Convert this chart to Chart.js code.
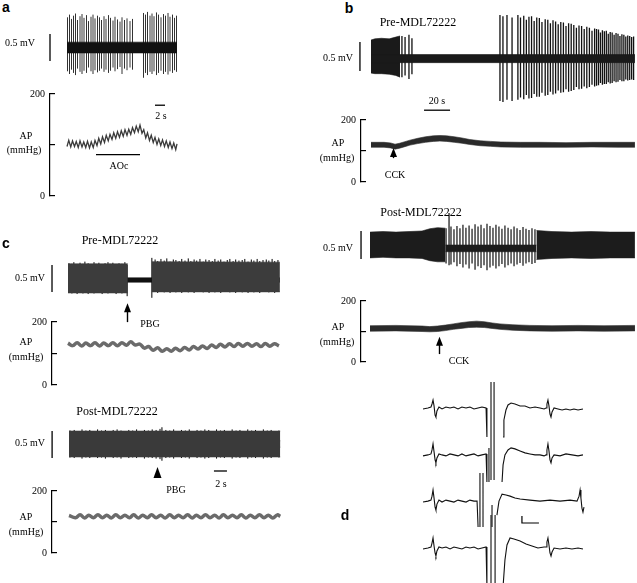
<!DOCTYPE html>
<html><head><meta charset="utf-8">
<script src="https://cdn.jsdelivr.net/npm/chart.js@4.4.1/dist/chart.umd.min.js"></script>
<style>
html,body{margin:0;padding:0;background:#fff;}
#fig{position:relative;width:637px;height:583px;overflow:hidden;background:#fff;}
canvas{position:absolute;}
.t{position:absolute;font-family:'Liberation Serif','Times New Roman',serif;font-size:10px;color:#000;white-space:nowrap;transform:translate(-50%,-50%);line-height:1;}
.L{font-family:'Liberation Sans',Arial,sans-serif;font-weight:bold;font-size:14px;}
.T{font-size:12px;}
</style></head><body><div id="fig"></div>
<script>
// ================= DATA =================
// ---- panel a : nerve activity (time s, mV) ----
const aSpikeT=[0.1,0.5,0.9,1.3,1.7,2.1,2.6,3.0,3.4,3.9,4.3,4.8,5.2,5.6,6.1,6.5,6.9,7.4,7.8,8.3,8.7,9.2,9.6,10.1,10.6,11.0,11.5,12.0,12.6,13.1,15.3,15.7,16.1,16.6,17.0,17.4,17.9,18.3,18.8,19.3,19.7,20.2,20.6,21.1,21.5,21.9];
const aSpikeTop=[0.55,0.60,0.52,0.58,0.62,0.50,0.57,0.61,0.54,0.59,0.48,0.56,0.60,0.53,0.58,0.55,0.50,0.57,0.52,0.59,0.54,0.49,0.56,0.51,0.47,0.55,0.50,0.53,0.48,0.52,0.63,0.60,0.65,0.58,0.62,0.57,0.64,0.60,0.55,0.61,0.58,0.63,0.56,0.60,0.54,0.58];
const aSpikeBot=[-0.45,-0.50,-0.42,-0.48,-0.52,-0.40,-0.46,-0.50,-0.44,-0.48,-0.38,-0.45,-0.50,-0.43,-0.47,-0.44,-0.40,-0.46,-0.42,-0.48,-0.44,-0.38,-0.45,-0.41,-0.37,-0.50,-0.40,-0.43,-0.38,-0.42,-0.57,-0.48,-0.52,-0.46,-0.50,-0.45,-0.52,-0.48,-0.44,-0.50,-0.46,-0.51,-0.45,-0.48,-0.43,-0.46];
const aBandT=[0,22], aBandHi=[0.09,0.09], aBandLo=[-0.11,-0.11];
// panel a : arterial pressure (s, mmHg)
const aApT=[0,0.35,0.75,1.1,1.5,1.85,2.25,2.6,3.0,3.35,3.75,4.1,4.5,4.85,5.25,5.6,6.0,6.35,6.75,7.1,7.5,7.85,8.25,8.6,9.0,9.35,9.75,10.1,10.5,10.85,11.25,11.6,12.0,12.35,12.75,13.1,13.5,13.85,14.25,14.6,15.0,15.35,15.75,16.1,16.5,16.85,17.25,17.6,18.0,18.35,18.75,19.1,19.5,19.85,20.25,20.6,21.0,21.35,21.75,22.0];
const aAp=[97,109,96,108,97,107,95,108,96,106,95,107,94,106,95,109,99,113,102,116,105,119,108,121,111,124,113,126,115,128,117,130,119,131,121,134,124,137,126,139,123,130,114,124,109,119,105,115,101,112,99,110,97,108,95,106,93,104,91,102];
const aOccT=[5.8,14.6], aOccLevel=81;           // aortic occlusion period (s)
const aTimeBar=[17.6,19.6], aTimeBarLevel=178;  // 2 s

// ---- panel b : pre-MDL72222 (time s, mV) ----
const bPreBlockT=[0,3,8,14,19,22.3], bPreBlockHi=[0.31,0.33,0.34,0.33,0.36,0.38], bPreBlockLo=[-0.26,-0.27,-0.27,-0.28,-0.30,-0.33];
const bPreBaseT=[0,203], bPreBaseHi=[0.06,0.06], bPreBaseLo=[-0.08,-0.08];
const bPreSpikeT=[23.8,26.2,29.2,31.5,99.2,101.5,104.6,108.5,113,115,117.5,119.5,121.5,123.5,125.5,127.5,129.5,131.5,134,136,138,140,142,144,146,148,150,152,154,156,158,160,162,164,166,168,170,172,173.5,175,176.5,178,179.5,181,182.5,184,185.5,187,188.5,190,191.5,193,194.5,196,197.5,199,200.5,202];
const bPreSpikeTop=[0.38,0.36,0.40,0.34,0.74,0.72,0.74,0.70,0.74,0.70,0.73,0.66,0.71,0.72,0.64,0.70,0.69,0.62,0.67,0.66,0.60,0.65,0.63,0.58,0.62,0.61,0.55,0.60,0.59,0.57,0.52,0.56,0.55,0.50,0.54,0.52,0.47,0.51,0.50,0.49,0.44,0.48,0.46,0.47,0.42,0.45,0.44,0.40,0.43,0.42,0.38,0.41,0.40,0.37,0.39,0.38,0.36,0.37];
const bPreSpikeBot=[-0.33,-0.30,-0.36,-0.28,-0.74,-0.76,-0.72,-0.74,-0.72,-0.68,-0.71,-0.64,-0.70,-0.69,-0.62,-0.67,-0.67,-0.60,-0.65,-0.64,-0.58,-0.63,-0.61,-0.56,-0.60,-0.59,-0.54,-0.58,-0.57,-0.55,-0.50,-0.54,-0.53,-0.49,-0.52,-0.50,-0.46,-0.49,-0.48,-0.47,-0.43,-0.46,-0.45,-0.45,-0.42,-0.44,-0.43,-0.40,-0.42,-0.41,-0.38,-0.40,-0.40,-0.37,-0.39,-0.38,-0.37,-0.38];
const bTimeBar=[40.8,60.8], bTimeBarLevel=-0.9;  // 20 s
const bPreApT=[0,10,15,18.5,22,26,30,36,42,48,53,58,64,70,76,84,92,100,115,130,150,170,190,203];
const bPreApHi=[128,128,126,122,125,130,135,141,146,149,150,149,146,142,137,133,131,129,128,128,127,128,128,128];
const bPreApLo=[112,112,110,106,109,114,119,124,128,131,132,131,128,125,121,117,115,113,112,112,112,113,112,112];
const bPreCCK={t:17,from:77,to:110};
// ---- panel b : post-MDL72222 ----
const bPostDenseLT=[0,10,20,30,40,46,52,58], bPostDenseLHi=[0.23,0.24,0.23,0.24,0.25,0.29,0.31,0.30], bPostDenseLLo=[-0.23,-0.22,-0.23,-0.23,-0.24,-0.28,-0.30,-0.30];
const bPostMidT=[58,128], bPostMidHi=[0.0,0.0], bPostMidLo=[-0.12,-0.12];
const bPostDenseRT=[128,140,155,170,185,203.8], bPostDenseRHi=[0.26,0.24,0.23,0.24,0.23,0.23], bPostDenseRLo=[-0.26,-0.24,-0.23,-0.24,-0.23,-0.23];
const bPostSpikeT=[58.5,60.8,62.3,64.6,66.9,69.2,71.5,73.8,76.2,78.5,80.8,83.1,85.4,87.7,90,92.3,94.6,96.9,99.2,101.5,103.8,106.2,108.5,110.8,113.1,115.4,117.7,120,122.3,124.6,126.9];
const bPostSpikeTop=[0.30,0.57,0.33,0.28,0.34,0.30,0.36,0.31,0.35,0.29,0.37,0.33,0.36,0.30,0.38,0.34,0.31,0.36,0.33,0.29,0.35,0.31,0.28,0.33,0.30,0.27,0.32,0.29,0.27,0.30,0.28];
const bPostSpikeBot=[-0.33,-0.36,-0.35,-0.31,-0.38,-0.34,-0.40,-0.35,-0.42,-0.33,-0.44,-0.38,-0.41,-0.36,-0.45,-0.40,-0.37,-0.42,-0.38,-0.34,-0.40,-0.36,-0.33,-0.38,-0.35,-0.32,-0.37,-0.33,-0.31,-0.34,-0.32];
const bPostApT=[0,20,40,46,52,58,64,70,76,82,88,94,100,110,123,140,160,180,203.8];
const bPostApHi=[119,120,118,116,118,121,125,129,132,134,132,128,125,122,120,119,120,119,120];
const bPostApLo=[101,102,100,99,100,103,107,110,113,114,113,110,107,104,102,101,102,101,102];
const bPostCCK={t:53,from:26,to:83};

// ---- panel c : pre-MDL72222 (time s, mV) ----
const cPreDenseLT=[0,9.2], cPreDenseLHi=[0.30,0.30], cPreDenseLLo=[-0.24,-0.24];
const cPreBaseT=[0,32.6], cPreBaseHi=[0.04,0.04], cPreBaseLo=[-0.04,-0.04];
const cPreDenseRT=[12.9,32.6], cPreDenseRHi=[0.34,0.33], cPreDenseRLo=[-0.22,-0.22];
const cPreSpikeT=[0.15,0.6,0.9,1.4,1.85,2.3,2.6,3.1,3.55,4.0,4.3,4.75,5.25,5.7,6.15,6.45,6.9,7.4,7.85,8.3,8.75,9.1,12.9,13.4,13.8,14.3,14.8,15.2,15.7,16.2,16.6,17.1,17.5,18.0,18.5,18.9,19.4,19.8,20.3,20.8,21.2,21.7,22.2,22.6,23.1,23.5,24.0,24.5,24.9,25.4,25.8,26.3,26.8,27.2,27.7,28.2,28.6,29.1,29.5,30.0,30.5,30.9,31.4,31.8,32.3];
const cPreSpikeTop=[0.31,0.30,0.33,0.29,0.32,0.30,0.34,0.31,0.29,0.33,0.30,0.32,0.29,0.31,0.33,0.30,0.32,0.29,0.31,0.30,0.33,0.28,0.41,0.38,0.35,0.39,0.36,0.40,0.34,0.38,0.37,0.35,0.39,0.36,0.40,0.35,0.38,0.36,0.39,0.34,0.38,0.37,0.35,0.39,0.36,0.38,0.34,0.37,0.39,0.35,0.38,0.36,0.37,0.39,0.34,0.38,0.36,0.39,0.35,0.37,0.38,0.36,0.39,0.35,0.37];
const cPreSpikeBot=[-0.24,-0.25,-0.23,-0.26,-0.24,-0.25,-0.23,-0.26,-0.24,-0.25,-0.24,-0.23,-0.26,-0.24,-0.25,-0.23,-0.24,-0.26,-0.24,-0.25,-0.24,-0.30,-0.33,-0.22,-0.24,-0.21,-0.23,-0.22,-0.24,-0.21,-0.23,-0.22,-0.24,-0.21,-0.23,-0.22,-0.24,-0.22,-0.21,-0.23,-0.22,-0.24,-0.21,-0.23,-0.22,-0.24,-0.22,-0.21,-0.23,-0.22,-0.24,-0.21,-0.23,-0.22,-0.24,-0.21,-0.23,-0.22,-0.24,-0.22,-0.21,-0.23,-0.22,-0.24,-0.22];
const cPreApT=[0,0.7,1.4,2.1,2.75,3.45,4.15,4.85,5.5,6.2,6.9,7.6,8.3,9.0,9.65,10.35,11.05,11.75,12.4,13.1,13.8,14.5,15.2,15.9,16.55,17.25,17.95,18.65,19.3,20.0,20.7,21.4,22.1,22.8,23.45,24.15,24.85,25.55,26.2,26.9,27.6,28.3,29.0,29.7,30.35,31.05,31.75,32.45];
const cPreAp=[133,125,134,124,133,125,134,124,133,125,134,125,134,126,137,127,130,117,122,110,118,107,115,107,117,109,119,111,122,114,124,116,127,119,129,121,131,122,132,123,132,123,131,122,132,123,131,124];
const cPrePBG={t:9.1,from:-0.78,to:-0.43};
// ---- panel c : post-MDL72222 ----
const cPostDenseT=[0,32.5], cPostDenseHi=[0.24,0.24], cPostDenseLo=[-0.24,-0.24];
const cPostCoreT=[0,32.5], cPostCoreHi=[0.06,0.06], cPostCoreLo=[-0.06,-0.06];
const cPostSpikeT=[0.15,0.8,1.4,2.0,2.6,3.2,3.8,4.4,5.0,5.6,6.2,6.8,7.4,8.0,8.6,9.2,9.8,10.4,11.0,11.6,12.2,12.8,13.4,14.0,14.3,14.9,15.5,16.1,16.7,17.3,17.9,18.5,19.1,19.7,20.3,20.9,21.5,22.1,22.7,23.3,23.9,24.5,25.1,25.7,26.3,26.9,27.5,28.1,28.7,29.3,29.9,30.5,31.1,31.7,32.3];
const cPostSpikeTop=[0.25,0.26,0.24,0.27,0.25,0.26,0.24,0.27,0.25,0.26,0.24,0.26,0.27,0.25,0.24,0.26,0.25,0.27,0.24,0.26,0.25,0.27,0.26,0.28,0.31,0.26,0.25,0.27,0.24,0.26,0.25,0.27,0.24,0.26,0.25,0.27,0.26,0.24,0.27,0.25,0.26,0.24,0.27,0.25,0.26,0.24,0.27,0.25,0.26,0.24,0.27,0.25,0.26,0.24,0.25];
const cPostSpikeBot=[-0.25,-0.26,-0.24,-0.27,-0.25,-0.26,-0.24,-0.26,-0.25,-0.27,-0.24,-0.26,-0.25,-0.27,-0.24,-0.26,-0.25,-0.26,-0.24,-0.27,-0.25,-0.26,-0.27,-0.28,-0.31,-0.26,-0.25,-0.27,-0.24,-0.26,-0.25,-0.27,-0.24,-0.26,-0.25,-0.27,-0.26,-0.24,-0.27,-0.25,-0.26,-0.24,-0.27,-0.25,-0.26,-0.24,-0.27,-0.25,-0.26,-0.24,-0.27,-0.25,-0.26,-0.24,-0.25];
const cTimeBar=[22.3,24.3], cTimeBarLevel=-0.5;   // 2 s
const cPostApT=[0,1.0,1.7,2.4,3.05,3.75,4.45,5.15,5.8,6.5,7.2,7.9,8.6,9.3,9.95,10.65,11.35,12.05,12.7,13.4,14.1,14.8,15.5,16.2,16.85,17.55,18.25,18.95,19.6,20.3,21.0,21.7,22.4,23.1,23.75,24.45,25.15,25.85,26.5,27.2,27.9,28.6,29.3,30.0,30.65,31.35,32.05,32.5];
const cPostAp=[121,114,123,113,122,114,123,114,122,113,123,114,122,114,123,113,122,114,123,114,122,113,123,114,122,114,123,113,122,114,123,114,122,113,123,114,122,114,123,113,122,114,123,114,122,113,123,118];
const cPostPBG={t:13.5,from:-0.63,to:-0.426};

// ---- panel d : single sweeps (time ms, mV); null = pen lift ----
const d1=[[0,-0.014],[0.29,0],[0.47,0.014],[0.53,0.057],[0.59,0.114],[0.65,0.03],[0.71,-0.1],[0.76,-0.129],[0.82,-0.043],[0.94,0.014],[1.12,-0.014],[1.35,0.014],[1.59,0],[1.82,0.014],[2.06,-0.014],[2.29,0.014],[2.53,0],[2.76,0.014],[3.0,-0.014],[3.24,0],[3.47,0.014],[3.71,0],[3.76,-0.414],null,[4.0,0.371],[4.0,-1.03],null,[4.18,0.371],[4.18,-1.03],null,[4.71,-0.414],[4.76,-0.171],[4.88,-0.029],[5.0,0.043],[5.18,0.071],[5.41,0.057],[5.71,0.029],[6.0,0.029],[6.29,0],[6.59,0.014],[6.88,0],[7.12,-0.014],[7.24,0],[7.29,0.057],[7.35,0.114],[7.41,0.03],[7.47,-0.086],[7.53,-0.129],[7.59,-0.057],[7.71,0],[7.94,-0.014],[8.18,-0.029],[8.41,-0.014],[8.65,-0.029],[8.88,-0.014],[9.12,-0.029],[9.41,-0.014]];
const d2=[[0,-0.014],[0.29,0],[0.47,0.014],[0.53,0.071],[0.59,0.157],[0.65,0.043],[0.71,-0.071],[0.76,-0.114],[0.82,-0.043],[0.94,0.014],[1.12,0],[1.35,-0.014],[1.59,0.014],[1.82,0],[2.06,-0.014],[2.29,0.014],[2.53,-0.014],[2.76,0],[3.0,0.014],[3.24,-0.014],[3.47,0],[3.71,0.014],[3.76,-0.386],null,[3.88,0.1],[3.88,-0.386],null,[4.65,-0.386],[4.71,-0.143],[4.82,0],[5.0,0.071],[5.18,0.1],[5.41,0.086],[5.71,0.057],[6.0,0.029],[6.29,0.014],[6.59,0],[6.88,0],[7.12,-0.014],[7.24,0],[7.29,0.071],[7.35,0.157],[7.41,0.057],[7.47,-0.071],[7.53,-0.114],[7.59,-0.043],[7.71,0],[8.06,-0.014],[8.41,0.014],[8.76,0],[9.12,-0.014],[9.41,0]];
const d3=[[0,-0.014],[0.29,0],[0.47,0.014],[0.53,0.071],[0.59,0.157],[0.65,0.043],[0.71,-0.086],[0.76,-0.129],[0.82,-0.043],[0.94,0.014],[1.12,-0.014],[1.35,0.014],[1.59,0],[1.82,-0.014],[2.06,0.014],[2.29,0],[2.53,-0.014],[2.76,0.014],[3.0,0],[3.18,0],[3.24,-0.371],null,[3.35,0.4],[3.35,-0.371],null,[3.53,0.4],[3.53,-0.371],null,[4.06,-0.057],[4.06,-0.371],null,[4.35,-0.2],[4.47,0],[4.65,0.1],[4.88,0.086],[5.12,0.071],[5.41,0.043],[5.71,0.029],[6.29,0.014],[6.88,0],[7.47,0.014],[8.06,0],[8.65,0.014],[9.06,0],[9.18,0.071],[9.24,0.157],[9.29,0.043],[9.35,-0.1],[9.41,-0.157],[9.47,-0.086]];
const d4=[[0,-0.014],[0.29,0],[0.47,0.014],[0.53,0.071],[0.59,0.143],[0.65,0.029],[0.71,-0.071],[0.76,-0.114],[0.82,-0.043],[0.94,0.014],[1.12,0],[1.35,0.014],[1.59,-0.014],[1.82,0.014],[2.06,0],[2.29,-0.014],[2.53,0.014],[2.76,0],[3.0,0.014],[3.24,-0.014],[3.47,0],[3.71,0.014],[3.76,-0.55],null,[4.0,0.471],[4.0,-0.55],null,[4.24,0.471],[4.24,-0.55],null,[4.71,-0.55],[4.82,-0.171],[4.94,0.043],[5.12,0.143],[5.35,0.129],[5.71,0.1],[6.06,0.057],[6.41,0.029],[6.76,0],[7.12,0.014],[7.24,0.014],[7.29,0.086],[7.35,0.143],[7.41,0.043],[7.47,-0.071],[7.53,-0.114],[7.59,-0.057],[7.71,0],[8.06,-0.014],[8.41,0],[8.76,-0.014],[9.12,0],[9.41,-0.014]];
const dScale={t:5.82,v:-1.643,ms:1,mV:0.1};
const mVBar=0.5;

// ================= RENDERING =================
const fig=document.getElementById('fig');
function addCanvas(l,t,w,h){const c=document.createElement('canvas');c.width=w;c.height=h;c.style.left=l+'px';c.style.top=t+'px';c.style.width=w+'px';c.style.height=h+'px';fig.appendChild(c);return c;}
const P=(xs,ys)=>xs.map((x,i)=>({x,y:ys[i]}));
function line(xs,ys,color,w,extra){return Object.assign({data:P(xs,ys),borderColor:color,borderWidth:w,pointRadius:0,fill:false,tension:0},extra||{});}
function band(xs,hi,lo,color){return [line(xs,lo,color,0.6),line(xs,hi,color,0.6,{fill:'-1',backgroundColor:color})];}
function spikes(ts,top,bot,color,w){const d=[];ts.forEach((t,i)=>{d.push({x:t,y:bot[i]},{x:t,y:top[i]},{x:t,y:null});});return {data:d,borderColor:color,borderWidth:w||1,pointRadius:0,fill:false,spanGaps:false};}
function sweep(arr,off){let lx=0;return {data:arr.map(p=>{if(p){lx=p[0];return {x:p[0],y:p[1]+off};}return {x:lx,y:null};}),borderColor:'#111',borderWidth:1.1,pointRadius:0,fill:false,spanGaps:false,tension:0};}
function vbar(t,lo,hi){return line([t,t],[lo,hi],'#000',1.3);}
function hbar(tt,v,extra){return line(tt,[v,v],'#000',1.3,extra);}

const annot={id:'annot',afterDatasetsDraw(chart,args,o){
  const ctx=chart.ctx,xs=chart.scales.x,ys=chart.scales.y;
  (o.arrows||[]).forEach(a=>{
    const x=Math.round(xs.getPixelForValue(a.t))+0.5;
    const y0=ys.getPixelForValue(a.from),y1=ys.getPixelForValue(a.to);
    const hl=a.headOnly?(y0-y1):9, hw=a.headOnly?4:3.5;
    ctx.save();ctx.fillStyle='#000';ctx.strokeStyle='#000';ctx.lineWidth=1.4;
    if(!a.headOnly){ctx.beginPath();ctx.moveTo(x,y0);ctx.lineTo(x,y1+hl-1);ctx.stroke();}
    ctx.beginPath();ctx.moveTo(x,y1);ctx.lineTo(x-hw,y1+hl);ctx.lineTo(x+hw,y1+hl);ctx.closePath();ctx.fill();
    ctx.restore();
  });
}};

function mk(frame,xmap,ymap,datasets,opt){
  opt=opt||{};
  const axis=!!opt.axis;
  const padL=axis?40:3,padR=3,padT=8,padB=8;
  const w=frame.r-frame.l+padL+padR,h=frame.b-frame.t+padT+padB;
  const cv=addCanvas(frame.l-padL,frame.t-padT,w,h);
  const xr=[(frame.l-xmap[0])/xmap[1],(frame.r-xmap[0])/xmap[1]];
  const yr=axis?[0,200]:[(ymap[0]-frame.b)/ymap[1],(ymap[0]-frame.t)/ymap[1]];
  const yS={type:'linear',display:axis,min:yr[0],max:yr[1]};
  if(axis)Object.assign(yS,{position:'left',afterFit(s){s.width=40;},
    border:{display:true,color:'#000',width:1.2},
    grid:{display:true,drawOnChartArea:false,drawTicks:true,tickLength:-5,color:'#000',lineWidth:1.2},
    ticks:{stepSize:100,padding:10,color:'#000',font:{family:"'Liberation Serif', serif",size:10},callback:v=>v===100?'':String(v)}});
  return new Chart(cv,{type:'line',data:{datasets},
    options:{responsive:false,animation:false,devicePixelRatio:1,
      layout:{padding:{left:axis?0:padL,right:padR,top:padT,bottom:padB}},
      plugins:{legend:{display:false},tooltip:{enabled:false},annot:{arrows:opt.arrows||[]}},
      elements:{point:{radius:0}},
      scales:{x:{type:'linear',display:false,min:xr[0],max:xr[1]},y:yS}},
    plugins:[annot]});
}

// ---- panel a ----
mk({l:46,r:178,t:8,b:84},[67,5],[47,54],[
  ...band(aBandT,aBandHi,aBandLo,'#111'),
  spikes(aSpikeT,aSpikeTop,aSpikeBot,'#333',1),
  vbar(-3.4,-0.26,-0.26+mVBar)
]);
mk({l:50,r:178,t:86,b:204},[67,5],null,[
  line(aApT,aAp,'#3a3a3a',1.3),
  hbar(aOccT,aOccLevel),
  hbar(aTimeBar,aTimeBarLevel)
],{axis:true});

// ---- panel b ----
mk({l:357,r:636,t:10,b:114},[371,1.3],[58,58],[
  ...band(bPreBaseT,bPreBaseHi,bPreBaseLo,'#1a1a1a'),
  ...band(bPreBlockT,bPreBlockHi,bPreBlockLo,'#1a1a1a'),
  spikes(bPreSpikeT,bPreSpikeTop,bPreSpikeBot,'#111',1.3),
  vbar(-8.5,-0.224,-0.224+mVBar),
  hbar(bTimeBar,bTimeBarLevel)
]);
mk({l:361,r:636,t:112,b:190},[371,1.3],null,[
  ...band(bPreApT,bPreApHi,bPreApLo,'#2a2a2a')
],{axis:true,arrows:[bPreCCK]});
mk({l:357,r:636,t:205,b:275},[370,1.3],[245,56],[
  ...band(bPostDenseLT,bPostDenseLHi,bPostDenseLLo,'#1c1c1c'),
  ...band(bPostMidT,bPostMidHi,bPostMidLo,'#1c1c1c'),
  ...band(bPostDenseRT,bPostDenseRHi,bPostDenseRLo,'#1c1c1c'),
  spikes(bPostSpikeT,bPostSpikeTop,bPostSpikeBot,'#111',1.2),
  vbar(-6.9,-0.25,-0.25+mVBar)
]);
mk({l:361,r:636,t:293,b:370},[370,1.3],null,[
  ...band(bPostApT,bPostApHi,bPostApLo,'#2a2a2a')
],{axis:true,arrows:[bPostCCK]});

// ---- panel c ----
mk({l:48,r:281,t:250,b:325},[68,6.5],[280,54],[
  ...band(cPreDenseLT,cPreDenseLHi,cPreDenseLLo,'#3c3c3c'),
  ...band(cPreDenseRT,cPreDenseRHi,cPreDenseRLo,'#3c3c3c'),
  ...band(cPreBaseT,cPreBaseHi,cPreBaseLo,'#111'),
  spikes(cPreSpikeT,cPreSpikeTop,cPreSpikeBot,'#000',1),
  vbar(-2.46,-0.22,-0.22+mVBar)
],{arrows:[cPrePBG]});
mk({l:52,r:281,t:314,b:393},[68,6.5],null,[
  line(cPreApT,cPreAp,'#6b6b6b',3.5,{tension:0.4})
],{axis:true});
mk({l:48,r:281,t:420,b:480},[69,6.5],[444,54],[
  ...band(cPostDenseT,cPostDenseHi,cPostDenseLo,'#3a3a3a'),
  ...band(cPostCoreT,cPostCoreHi,cPostCoreLo,'#161616'),
  spikes(cPostSpikeT,cPostSpikeTop,cPostSpikeBot,'#000',1),
  vbar(-2.6,-0.26,-0.26+mVBar),
  hbar(cTimeBar,cTimeBarLevel)
],{arrows:[Object.assign({headOnly:true},cPostPBG)]});
mk({l:52,r:281,t:483,b:561},[69,6.5],null,[
  line(cPostApT,cPostAp,'#6b6b6b',3.5,{tension:0.4})
],{axis:true});

// ---- panel d ----
const dOff=[0,-0.67,-1.33,-2.0];
mk({l:420,r:586,t:380,b:583},[423,17],[408,70],[
  sweep(d1,dOff[0]),sweep(d2,dOff[1]),sweep(d3,dOff[2]),sweep(d4,dOff[3]),
  line([dScale.t,dScale.t,dScale.t+dScale.ms],[dScale.v+dScale.mV,dScale.v,dScale.v],'#000',1.2)
]);

// ---- text ----
const texts=[
 ['a',6,7,'L'],['0.5 mV',20,43],['AP',26,136],['(mmHg)',24,150],['2 s',161,116],['AOc',119,166],
 ['b',349,8,'L'],['Pre-MDL72222',418,22,'T'],['0.5 mV',338,58],['20 s',437,101],['AP',338,143],['(mmHg)',337,158],['CCK',395,175],
 ['Post-MDL72222',421,212,'T'],['0.5 mV',338,248],['AP',338,327],['(mmHg)',337,342],['CCK',459,361],
 ['c',6,243,'L'],['Pre-MDL72222',120,240,'T'],['0.5 mV',30,278],['AP',26,342],['(mmHg)',26,357],['PBG',150,324],
 ['Post-MDL72222',117,411,'T'],['0.5 mV',30,443],['PBG',176,490],['2 s',221,484],['AP',26,517],['(mmHg)',26,532],
 ['d',345,515,'L']
];
texts.forEach(([s,x,y,c])=>{const d=document.createElement('div');d.className='t'+(c?' '+c:'');d.textContent=s;d.style.left=x+'px';d.style.top=y+'px';fig.appendChild(d);});
</script>
</body></html>
